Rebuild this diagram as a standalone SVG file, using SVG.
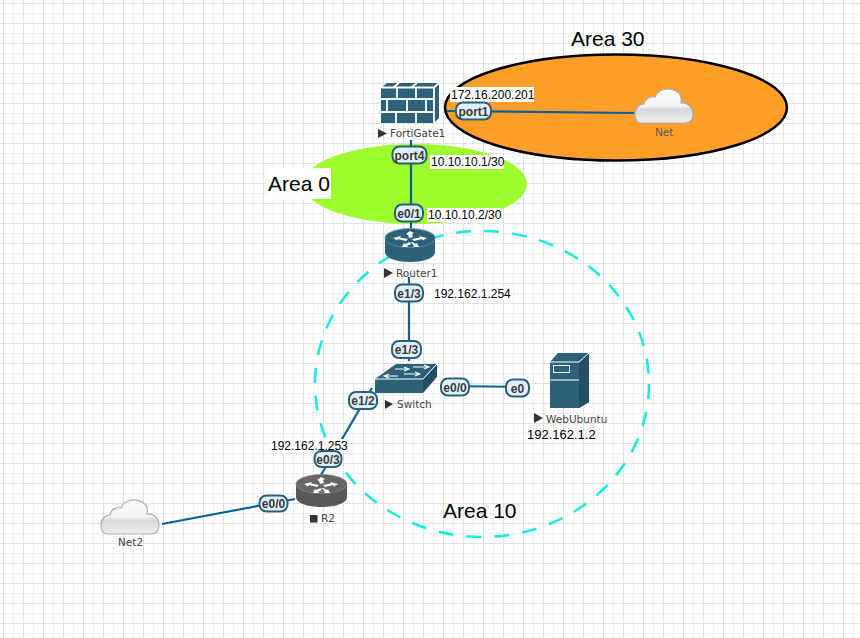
<svg xmlns="http://www.w3.org/2000/svg" width="860" height="638" viewBox="0 0 860 638">
<style>
text{font-family:"Liberation Sans",Arial,sans-serif;fill:#000}
.ip{font-size:12px}
.area{font-size:21px}
.nm{font-size:10.5px;fill:#444;font-family:"DejaVu Sans",sans-serif}
.lk{stroke:#0b5f9c;stroke-width:2.2;fill:none}
.pb{fill:#dff0fb;stroke:#2b6079;stroke-width:2}
.pt{font-size:12px;font-weight:bold;fill:#3a3a3a;text-anchor:middle}
.w{fill:#fff}
.teal{fill:#2d6179}
</style>
<defs>
<pattern id="grid" width="20" height="20" patternUnits="userSpaceOnUse" x="3" y="3">
<path d="M10.5 0V20M0 10.5H20" stroke="#f0f0f0" stroke-width="1" fill="none"/>
<path d="M0.5 0V20M0 0.5H20" stroke="#e2e2e2" stroke-width="1" fill="none"/>
</pattern>
<linearGradient id="cl" x1="0" y1="0" x2="0" y2="1">
<stop offset="0" stop-color="#fbfbfb"/><stop offset=".5" stop-color="#f4f4f5"/><stop offset=".6" stop-color="#d6d7dc"/><stop offset="1" stop-color="#f0f0f2"/>
</linearGradient>
<symbol id="cloud" viewBox="0 0 60 38" width="60" height="38">
<path d="M8 36C2 36 1 31 1 27C1 21 5 17 10 17C11 11 16 9 21 10C24 2 35 0 42 4C47 7 48 12 47 16C53 15 59 20 59 27C59 33 56 36 51 36Z" fill="url(#cl)" stroke="#a9abb0" stroke-width="1.2"/>
</symbol>
<g id="rarrows" fill="#fff">
<path d="M8 9L16 7L15 8.500L23 10L21 12L13 10L12 11.500Z"/>
<path d="M42 9L34 7L35 8.500L27 10L29 12L37 10L38 11.500Z"/>
<path d="M17 17L19 13L20 14L25 12L26 14L22 16L23 17Z" transform="translate(0 1)"/>
<path d="M33 17L31 13L30 14L26 12L25 12L28 16L27 17Z" transform="translate(1 1)"/>
<path d="M25 2L29 4L27 5L28 8L24 9L23 6L21 5Z" />
</g>
</defs>
<rect width="860" height="638" fill="#fff"/>
<rect width="860" height="638" fill="url(#grid)"/>

<g id="areas">
<ellipse cx="415" cy="184" rx="112" ry="40" fill="#9dfb2e"/>
<ellipse cx="616" cy="107.500" rx="171" ry="53" fill="#ff9f29" stroke="#000" stroke-width="2.5"/>
<ellipse cx="482" cy="384" rx="167" ry="153" fill="none" stroke="#14eedd" stroke-width="2.500" stroke-dasharray="15 13"/>
</g>

<g id="connectors">
<path class="lk" d="M411 140V228"/>
<path class="lk" d="M447 111L634 113"/>
<path class="lk" d="M409 277V361"/>
<path class="lk" d="M372 388L318 480"/>
<path class="lk" d="M443 386L530 387"/>
<path class="lk" d="M162 524L295 499"/>
</g>

<g id="area-labels">
<text class="area" x="571" y="46">Area 30</text>
<rect class="w" x="267" y="168" width="64" height="31"/>
<text class="area" x="268" y="191">Area 0</text>
<text class="area" x="443" y="518">Area 10</text>
</g>

<g id="FortiGate1">
<path class="teal" d="M381 88L387 83H439V118L434 123H381Z"/>
<path d="M381 87.500H434L439 83M381 99H434M381 112H434M399 83L393 87.500M417 83L411 87.500M434 87.500V123M397 87.500V99M416 87.500V99M387 99V112M407 99V112M426 99V112M396 112V123M416 112V123" stroke="#fff" stroke-width="1.800" fill="none"/>
<path d="M378 129L387 133.500L378 138Z" fill="#333"/>
<text class="nm" x="390" y="137">FortiGate1</text>
</g>

<g id="Router1">
<path class="teal" d="M385 238V252C385 258 396 262 410 262S435 258 435 252V238Z"/>
<ellipse cx="410" cy="238" rx="25" ry="9.500" fill="#2d6179" stroke="#6a97aa" stroke-width=".7"/>
<use href="#rarrows" x="385" y="229"/>
<path d="M384 268L393 273L384 278Z" fill="#333"/>
<text class="nm" x="396" y="277">Router1</text>
</g>

<g id="Switch">
<path class="teal" d="M375 379L396 364H437L423 379V393H375Z"/>
<path d="M423 393V379L437 364V377Z" fill="#234f63"/>
<path d="M375 379H423L437 364" stroke="#fff" stroke-width="1" fill="none"/>
<path d="M395 369H408M404 367L409 369L404 371M398 376H385M389 374L384 376L389 378M404 374H419M415 372L420 374L415 376M413 367H428M424 365L429 367L424 369" stroke="#fff" stroke-width="1.100" fill="none"/>
<path d="M385 400L393 404L385 409Z" fill="#333"/>
<text class="nm" x="397" y="408">Switch</text>
</g>

<g id="WebUbuntu">
<path class="teal" d="M550 362L558 353H589V402L579 408H550Z"/>
<path d="M579 408V362L589 353V402Z" fill="#234f63"/>
<path d="M550 362H579L589 353M550 380H579" stroke="#fff" stroke-width="1" fill="none"/>
<rect x="553.500" y="365.500" width="16" height="7" fill="#2d6179" stroke="#fff" stroke-width="1"/>
<path d="M534 413L543 418L534 423Z" fill="#333"/>
<text class="nm" x="546" y="423">WebUbuntu</text>
</g>
<text class="ip" x="527" y="439" style="font-size:13px">192.162.1.2</text>

<g id="R2">
<path fill="#575757" d="M296 484V497C296 503 307 507 321.500 507S347 503 347 497V484Z"/>
<ellipse cx="321.500" cy="484" rx="25.500" ry="9.500" fill="#666" stroke="#8a8a8a" stroke-width=".7"/>
<use href="#rarrows" x="296" y="475"/>
<rect x="310" y="515" width="7.500" height="7.500" fill="#333"/>
<text class="nm" x="321" y="522">R2</text>
</g>

<g id="Net">
<use href="#cloud" x="634" y="87"/>
<text class="nm" x="655" y="136" style="fill:#555">Net</text>
</g>

<g id="Net2">
<use href="#cloud" x="100" y="498"/>
<text class="nm" x="118" y="546">Net2</text>
</g>

<g id="ip-labels">
<rect class="w" x="450" y="87" width="84" height="15"/><text class="ip" x="451" y="99">172.16.200.201</text>
<rect class="w" x="430" y="155" width="74" height="14"/><text class="ip" x="431" y="166">10.10.10.1/30</text>
<rect class="w" x="427" y="208" width="74" height="14"/><text class="ip" x="428" y="219">10.10.10.2/30</text>
<rect class="w" x="433" y="287" width="80" height="14"/><text class="ip" x="434" y="298">192.162.1.254</text>
<rect class="w" x="270" y="439" width="78" height="14"/><text class="ip" x="271" y="450">192.162.1.253</text>
</g>

<g id="port-labels">
<rect class="pb" x="456" y="102.500" width="35" height="17" rx="7"/><text class="pt" x="473.500" y="115.500">port1</text>
<rect class="pb" x="392.500" y="146.500" width="34" height="17" rx="7"/><text class="pt" x="409.500" y="159.500">port4</text>
<rect class="pb" x="395" y="204.500" width="28" height="17" rx="7"/><text class="pt" x="409" y="217.500">e0/1</text>
<rect class="pb" x="395" y="284.500" width="28" height="17" rx="7"/><text class="pt" x="409" y="297.500">e1/3</text>
<rect class="pb" x="392" y="341" width="29" height="17" rx="7"/><text class="pt" x="406.500" y="354">e1/3</text>
<rect class="pb" x="349" y="392" width="28" height="17" rx="7"/><text class="pt" x="363" y="405">e1/2</text>
<rect class="pb" x="441" y="378.500" width="28" height="17" rx="7"/><text class="pt" x="455" y="391.500">e0/0</text>
<rect class="pb" x="506" y="379.500" width="23" height="17" rx="7"/><text class="pt" x="517.500" y="392.500">e0</text>
<rect class="pb" x="314.500" y="451" width="27" height="16" rx="7"/><text class="pt" x="328" y="463.500">e0/3</text>
<rect class="pb" x="259.500" y="495.500" width="28" height="16" rx="7"/><text class="pt" x="273.500" y="508">e0/0</text>
</g>
</svg>
